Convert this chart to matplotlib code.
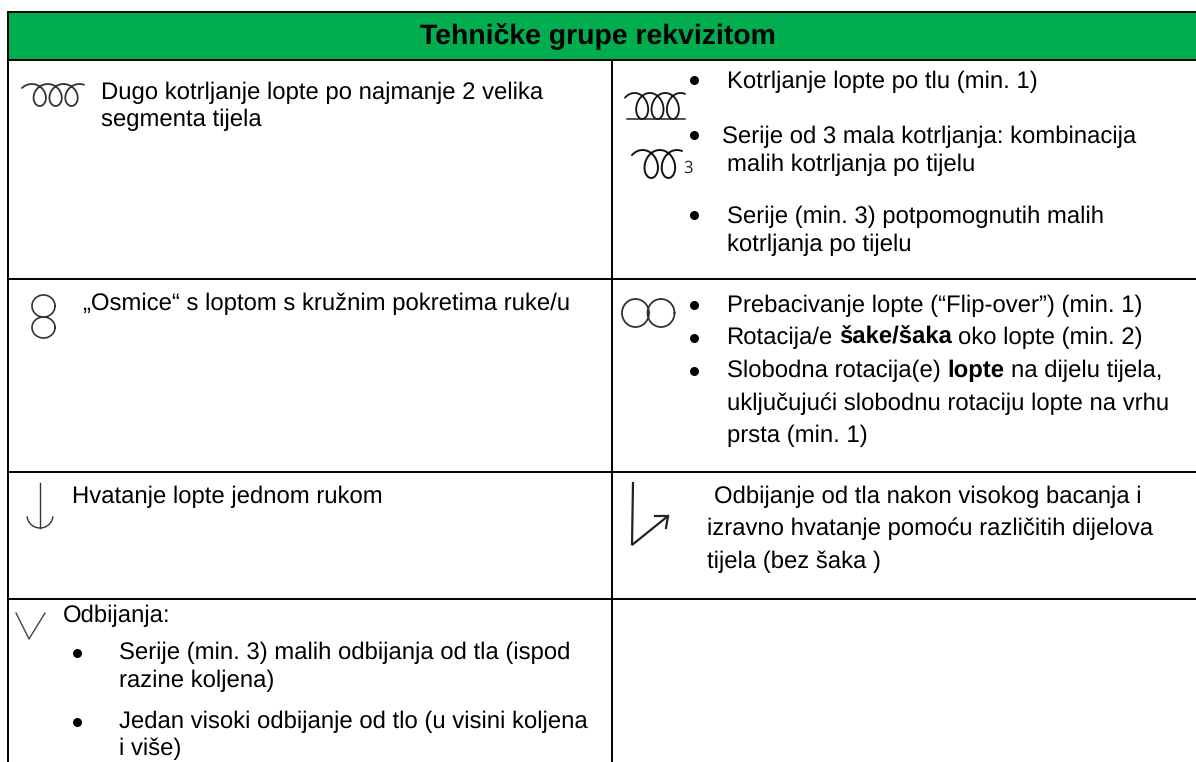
import numpy as np
import matplotlib
matplotlib.use('Agg')
import matplotlib.pyplot as plt

plt.rcParams['font.family'] = ['Liberation Sans', 'DejaVu Sans']
plt.rcParams['text.hinting'] = 'no_hinting'

# Table content
title = 'Tehničke grupe rekvizitom'
grid_h = [12, 60, 279, 472, 599]

# text, x, baseline y
left_lines = [
    ('Dugo kotrljanje lopte po najmanje 2 velika', 101, 99),
    ('segmenta tijela', 101, 126),
    ('„Osmice“ s loptom s kružnim pokretima ruke/u', 83, 310),
    ('Hvatanje lopte jednom rukom', 72, 503),
    ('Odbijanja:', 63, 622),
    ('Serije (min. 3) malih odbijanja od tla (ispod', 119, 659),
    ('razine koljena)', 119, 687),
    ('Jedan visoki odbijanje od tlo (u visini koljena', 119, 728),
    ('i više)', 119, 755),
]
right_lines = [
    ('Kotrljanje lopte po tlu (min. 1)', 727, 88),
    ('Serije od 3 mala kotrljanja: kombinacija', 722, 143),
    ('malih kotrljanja po tijelu', 727, 171),
    ('Serije (min. 3) potpomognutih malih', 727, 223),
    ('kotrljanja po tijelu', 727, 251),
    ('Prebacivanje lopte (“Flip-over”) (min. 1)', 727, 312),
    ('uključujući slobodnu rotaciju lopte na vrhu', 727, 410),
    ('prsta (min. 1)', 727, 442),
    ('Odbijanje od tla nakon visokog bacanja i', 714, 503),
    ('izravno hvatanje pomoću različitih dijelova', 707, 535),
    ('tijela (bez šaka )', 707, 568),
]
mixed_lines = [
    ([('Rotacija/e', 'normal'), ('šake/šaka', 'bold'), ('oko lopte (min. 2)', 'normal')], 726, 344),
    ([('Slobodna rotacija(e)', 'normal'), ('lopte', 'bold'), ('na dijelu tijela,', 'normal')], 727, 377),
]
bullets = [(694, 80), (694, 135), (694, 215), (694, 305), (694, 338), (694, 371), (77, 653), (77, 722)]

fs = 17.2

fig = plt.figure(figsize=(11.96, 7.62), dpi=100)
ax = fig.add_axes([0, 0, 1, 1])
ax.set_xlim(0, 1196)
ax.set_ylim(762, 0)
ax.axis('off')


def coil(x0, x1, y_top, y_bot, n, lw=1.3, color='#333333'):
    # looped stroke used for the rolling symbols
    ratio = 3.9
    t = np.linspace(0.72 * np.pi, (2 * n + 1.12) * np.pi, 500)
    xs = t - ratio * np.sin(t)
    xs = (xs - xs.min()) / (xs.max() - xs.min()) * (x1 - x0) + x0
    r = (y_bot - y_top) / 2
    ys = y_top + r + r * np.cos(t)
    ax.plot(xs, ys, color=color, lw=lw, solid_capstyle='round')


def ring(cx, cy, rx, ry, lw=1.2, color='#333333'):
    t = np.linspace(0, 2 * np.pi, 100)
    ax.plot(cx + rx * np.cos(t), cy + ry * np.sin(t), color=color, lw=lw)


# Header and grid, the table runs off the right edge
ax.fill_between([8, 1196], 12, 60, color='#00ae50', lw=0, zorder=0)
ax.text(598, 44, title, ha='center', va='baseline', fontsize=20.4, fontweight='bold', color='black')
for y in grid_h:
    ax.plot([7, 1196], [y, y], color='black', lw=1.4, solid_capstyle='butt')
ax.plot([8, 8], [12, 762], color='black', lw=1.4, solid_capstyle='butt')
ax.plot([612, 612], [60, 762], color='black', lw=1.4, solid_capstyle='butt')

# Body text
for txt, x, y in left_lines + right_lines:
    ax.text(x, y, txt, ha='left', va='baseline', fontsize=fs, color='black')

renderer = fig.canvas.get_renderer()
for runs, x, y in mixed_lines:
    for txt, weight in runs:
        t_obj = ax.text(x, y, txt, ha='left', va='baseline', fontsize=fs, fontweight=weight, color='black')
        x = x + t_obj.get_window_extent(renderer).width + 6.6

ax.scatter([b[0] for b in bullets], [b[1] for b in bullets], s=42, color='black', lw=0)

# Symbols
coil(22, 84, 84, 106, 3)
coil(625, 685, 93, 119, 3, color='#111111')
ax.plot([627, 685], [119, 119], color='#222222', lw=1.1)
coil(632, 682, 150, 178, 2, lw=1.4, color='#111111')
ax.text(683, 173, '3', ha='left', va='baseline', fontsize=12, family='Open Sans', color='#222222')
ring(43.5, 306, 11.5, 11)
ring(43.5, 327.5, 11.5, 10.5)
ring(635.5, 313, 13.5, 14, lw=1.3)
ring(661, 313, 13.5, 14, lw=1.3)
ax.plot([40, 40], [483, 528], color='#333333', lw=1.0)
t = np.linspace(0.05 * np.pi, 0.95 * np.pi, 40)
ax.plot(40 + 13 * np.cos(t), 515 + 13 * np.sin(t), color='#333333', lw=1.0)
ax.plot([633, 632, 668], [483, 545, 516], color='#222222', lw=1.6, solid_joinstyle='miter')
ax.plot([655, 668, 666], [516, 516, 528], color='#222222', lw=1.6)
ax.plot([16, 29, 45], [613, 639, 613], color='#444444', lw=1.0)

fig.savefig('out.png', dpi=100)
